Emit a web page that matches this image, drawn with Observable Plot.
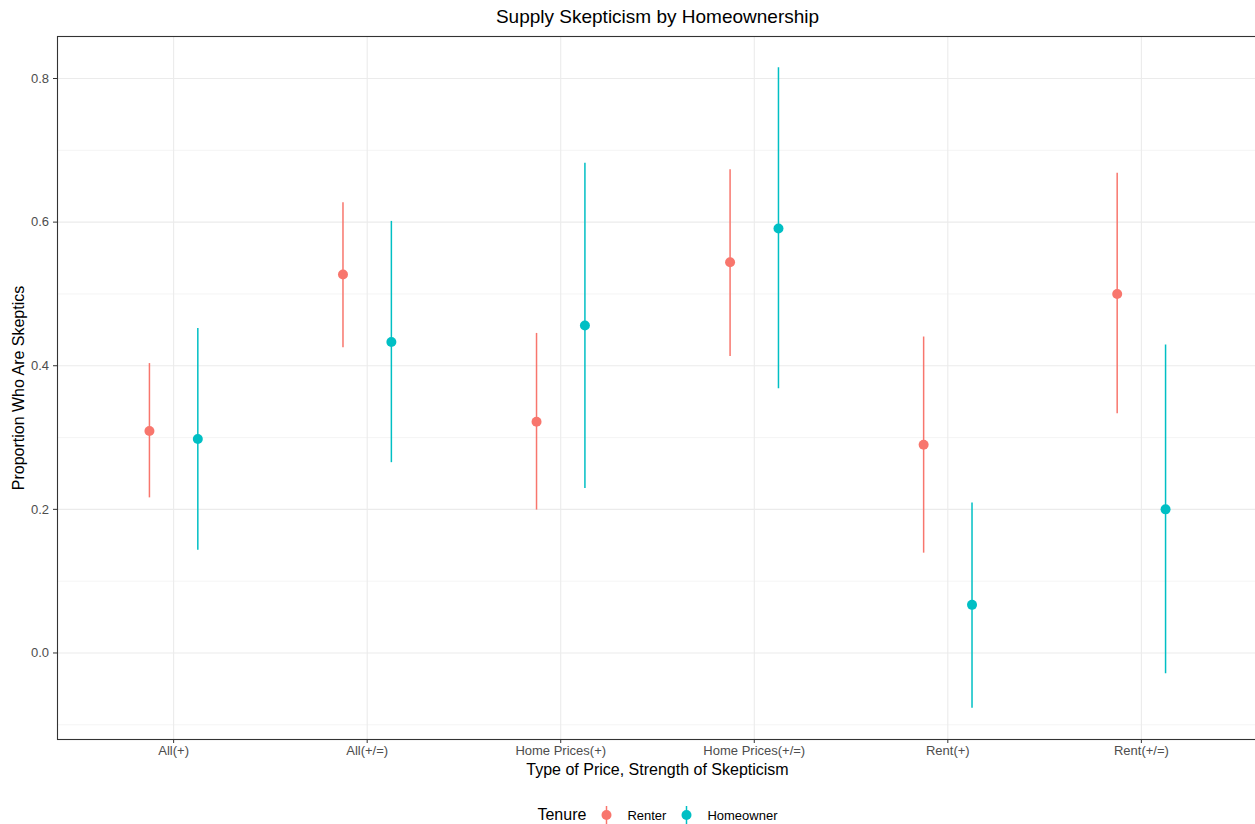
<!DOCTYPE html>
<html>
<head>
<meta charset="utf-8">
<script src="https://cdn.jsdelivr.net/npm/d3@7"></script>
<script src="https://cdn.jsdelivr.net/npm/@observablehq/plot@0.6"></script>
<style>
  body { margin: 0; background: #fff; font-family: "Liberation Sans", Arial, sans-serif; overflow: hidden; }
  #title { height: 30px; line-height: 34px; text-align: center; font-size: 19px; color: #000; padding-left: 60px; }
  #legend { display: flex; justify-content: center; align-items: center; font-size: 13px; color: #000; height: 24px; margin-top: 3px; padding-left: 72px; }
  #legend .ttl { font-size: 16px; margin-right: 12px; }
  #legend .key { display: flex; align-items: center; margin-right: 12px; }
  #legend svg { margin-right: 12px; }
</style>
</head>
<body>
<div id="title">Supply Skepticism by Homeownership</div>
<div id="chart"></div>
<div id="legend"></div>
<script>
// Categories along x
const categories = ["All(+)", "All(+/=)", "Home Prices(+)", "Home Prices(+/=)", "Rent(+)", "Rent(+/=)"];
const tenures = ["Renter", "Homeowner"];
const colors = ["#F8766D", "#00BFC4"];

// Estimated proportion of skeptics with confidence interval, per category
const renterMean = [0.309, 0.527, 0.322, 0.544, 0.290, 0.500];
const renterLow  = [0.216, 0.425, 0.199, 0.413, 0.139, 0.333];
const renterHigh = [0.403, 0.627, 0.445, 0.673, 0.440, 0.668];

const ownerMean = [0.298, 0.433, 0.456, 0.591, 0.067, 0.200];
const ownerLow  = [0.143, 0.265, 0.229, 0.368, -0.077, -0.029];
const ownerHigh = [0.452, 0.601, 0.682, 0.815, 0.209, 0.429];

// Horizontal dodge between the two tenure groups (category units)
const dodge = {Renter: -0.125, Homeowner: 0.125};

const rows = [];
categories.forEach((c, i) => {
  rows.push({cat: c, i, tenure: "Renter", mean: renterMean[i], low: renterLow[i], high: renterHigh[i]});
  rows.push({cat: c, i, tenure: "Homeowner", mean: ownerMean[i], low: ownerLow[i], high: ownerHigh[i]});
});
rows.forEach(d => d.xpos = d.i + dodge[d.tenure]);

const majorY = [0, 0.2, 0.4, 0.6, 0.8];
const minorY = [-0.1, 0.1, 0.3, 0.5, 0.7];
const catIdx = categories.map((_, i) => i);

// The panel runs slightly past the right edge of the page, so its right border is cut off
const plot = Plot.plot({
  width: 1255,
  height: 770,
  marginTop: 6,
  marginLeft: 57,
  marginRight: -2,
  marginBottom: 61,
  style: {fontFamily: "Liberation Sans, Arial, sans-serif", background: "#fff", overflow: "hidden"},
  x: {domain: [-0.6, 5.6], axis: null},
  y: {domain: [-0.1205, 0.8585], axis: null},
  color: {domain: tenures, range: colors},
  marks: [
    Plot.ruleY(minorY, {stroke: "#ebebeb", strokeWidth: 0.55}),
    Plot.ruleY(majorY, {stroke: "#ebebeb", strokeWidth: 1.1}),
    Plot.ruleX(catIdx, {stroke: "#ebebeb", strokeWidth: 1.1}),
    Plot.axisY(majorY, {tickSize: 4, tickPadding: 4.5, tickFormat: d3.format(".1f"), fontSize: 13, color: "#4d4d4d", stroke: "#333", label: null}),
    Plot.axisX(catIdx, {tickSize: 4, tickPadding: 2, tickFormat: i => categories[i], fontSize: 13, color: "#4d4d4d", stroke: "#333", label: null}),
    Plot.ruleX(rows, {x: "xpos", y1: "low", y2: "high", stroke: "tenure", strokeWidth: 1.5}),
    Plot.dot(rows, {x: "xpos", y: "mean", fill: "tenure", r: 5, stroke: null}),
    Plot.frame({stroke: "#333", strokeWidth: 1.1}),
    Plot.text(["Proportion Who Are Skeptics"], {frameAnchor: "left", textAnchor: "middle", rotate: -90, dx: -39, fontSize: 16, fill: "#000"}),
    Plot.text(["Type of Price, Strength of Skepticism"], {frameAnchor: "bottom", dy: 35, fontSize: 16, fill: "#000"})
  ]
});
document.getElementById("chart").appendChild(plot);

// Legend: point-range glyphs for each tenure
const legend = document.getElementById("legend");
const t = document.createElement("span");
t.className = "ttl";
t.textContent = "Tenure";
legend.appendChild(t);
tenures.forEach((name, k) => {
  const key = document.createElement("span");
  key.className = "key";
  key.innerHTML = `<svg width="17" height="20"><line x1="8.5" x2="8.5" y1="1" y2="19" stroke="${colors[k]}" stroke-width="1.5"/><circle cx="8.5" cy="10" r="5" fill="${colors[k]}"/></svg><span>${name}</span>`;
  legend.appendChild(key);
});
</script>
</body>
</html>
